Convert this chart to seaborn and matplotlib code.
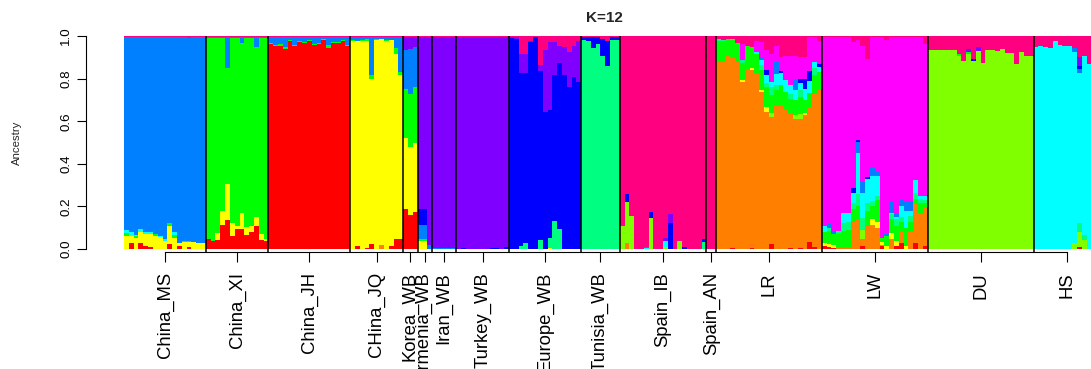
import numpy as np
import pandas as pd
import matplotlib
matplotlib.use("Agg")
import matplotlib.pyplot as plt
import seaborn as sns

# ---------------- data ----------------
components = ["red", "orange", "yellow", "chartreuse", "green", "spring",
              "cyan", "azure", "blue", "violet", "magenta", "rose"]
palette = ["#FF0000", "#FF8000", "#FFFF00", "#80FF00", "#00FF00", "#00FF80",
           "#00FFFF", "#0080FF", "#0000FF", "#8000FF", "#FF00FF", "#FF0080"]

group_labels = ["China_MS", "China_XI", "China_JH", "CHina_JQ", "Korea_WB",
                "Armenia_WB", "Iran_WB", "Turkey_WB", "Europe_WB", "Tunisia_WB",
                "Spain_IB", "Spain_AN", "LR", "LW", "DU", "HS"]
group_sizes = [17, 13, 17, 11, 3, 3, 5, 11, 15, 8, 18, 2, 22, 22, 22, 14]
group_major = ["azure", "green", "red", "yellow", "yellow", "violet", "violet",
               "violet", "blue", "spring", "rose", "rose", "orange", "magenta",
               "chartreuse", "cyan"]

# minor ancestry components (percent) per individual; major = remainder
china_ms = {
    "red":    [0, 2.8, 0, 2.8, 1.2, 0.8, 0, 0, 0, 2.3, 0, 1.5, 0, 0.8, 0, 0, 0],
    "yellow": [6.3, 3.4, 5, 5, 5.8, 6.2, 6.2, 5.4, 3.9, 8.3, 5, 1.3, 3.4, 2.3, 3.4, 2.8, 2.8],
    "green":  [1.0, 0, 1, 0, 0, 0, 0.8, 0, 0, 1.8, 1.5, 0, 0.5, 0.8, 0, 0, 0],
    "cyan":   [1.6, 1.6, 0.5, 1.8, 0.8, 0.8, 0, 0.5, 0.8, 0, 1.3, 0, 0, 0, 0, 0, 0],
    "rose":   [0.6, 0.6, 0.6, 0.6, 0.6, 0.6, 0.6, 0.6, 0.6, 0.6, 0.6, 0.6, 0.6, 0.8, 0.6, 0.6, 0.6],
}
china_xi = {
    "red":    [4.7, 3.9, 4.3, 11.2, 13.4, 6.2, 9.6, 9.6, 6.5, 7.8, 11.0, 4.3, 3.9],
    "yellow": [0, 0, 3.2, 6.5, 17.3, 5.9, 1.0, 7.5, 3.6, 2.8, 4.1, 2.7, 0.8],
    "azure":  [0.3, 0.3, 0.3, 0.5, 14.6, 0.3, 0.3, 2.8, 0.3, 0.3, 4.7, 0.3, 0.3],
    "rose":   [0.6, 0.6, 0.6, 0.6, 0.6, 0.6, 0.6, 0.6, 0.6, 0.6, 0.6, 0.6, 0.6],
}
china_jh = {
    "green": [0.5, 0.5, 1.0, 1.0, 0.5, 0.5, 0.5, 0.5, 0.5, 0.5, 0.5, 0.5, 1.5, 0.5, 0.5, 0.5, 0.5],
    "azure": [2.6, 3.6, 3.1, 4.6, 1.4, 3.6, 1.7, 2.3, 1.1, 3.2, 2.6, 0.8, 3.5, 2.0, 2.0, 1.1, 3.6],
    "rose":  [0.6, 0.6, 0.6, 0.6, 0.6, 0.6, 0.6, 0.6, 0.6, 0.6, 0.6, 0.6, 0.6, 0.6, 0.6, 0.6, 0.6],
}
china_jq = {
    "red":    [0, 1.2, 0, 0.6, 2.3, 0, 0, 0, 1.5, 4.7, 4.7],
    "orange": [0, 0, 0, 0, 0, 0, 1.9, 0, 0, 0, 0],
    "green":  [0.3, 0.3, 0.5, 0.6, 1.7, 0.3, 0.3, 0.6, 0.3, 2.8, 1.6],
    "azure":  [1.3, 1.6, 1.4, 1.0, 17.9, 1.0, 0.6, 1.3, 1.1, 5.0, 16.3],
    "rose":   [0.6, 0.6, 0.6, 0.6, 0.6, 0.6, 0.6, 0.6, 0.6, 0.6, 0.6],
}
korea_wb = {
    "red":    [19.0, 15.8, 17.4],
    "green":  [23.3, 24.9, 26.3],
    "azure":  [17.9, 20.9, 19.0],
    "violet": [6.2, 5.5, 4.4],
    "rose":   [0.6, 0.6, 0.6],
}
armenia_wb = {
    "yellow": [3.9, 3.9, 0],
    "green":  [0.8, 0.8, 0],
    "azure":  [6.6, 6.6, 1.9],
    "blue":   [7.3, 7.3, 0],
    "rose":   [0.5, 0.5, 0.5],
}
iran_wb = {
    "azure": [0.5, 0.3, 0.5, 0.3, 0.3],
    "rose":  [0.5, 0.5, 0.5, 0.5, 0.5],
}
turkey_wb = {
    "blue": [0, 0.5, 0, 0, 0, 0, 0, 0.5, 0.5, 0, 0.8],
    "rose": [0.5, 0.5, 0.5, 0.5, 0.5, 0.5, 0.5, 0.5, 0.5, 0.5, 0.5],
}
europe_wb = {
    "yellow": [0, 0, 0, 0, 0, 0, 0, 0, 0.6, 0, 0, 0, 0, 0, 0],
    "spring": [0, 0, 1.4, 3.0, 0, 0, 4.2, 0, 4.5, 13.1, 9.4, 0, 0, 0, 0],
    "violet": [0.5, 1.0, 9.0, 9.0, 0.5, 0, 3.1, 28.7, 31.8, 15.5, 8.0, 13.2, 16.6, 14.8, 19.4],
    "rose":   [0.6, 0.6, 8.4, 8.4, 2.5, 0.6, 13.4, 6.8, 3.0, 3.0, 4.7, 5.3, 7.3, 4.5, 2.2],
}
tunisia_wb = {
    "blue": [1.5, 1.9, 5.0, 3.1, 7.8, 12.1, 1.2, 1.2],
    "rose": [0.6, 0.6, 0.6, 0.6, 1.5, 2.2, 0.6, 0.6],
}
spain_ib = {
    "orange":     [0, 3.0, 0, 0, 0, 0, 0, 0, 0, 0, 0, 0, 0, 0, 0, 0, 0, 0],
    "chartreuse": [10.8, 19.2, 15.6, 0, 0, 0, 14.4, 0, 0, 1.1, 0, 0, 3.9, 0, 0, 0, 0, 0],
    "spring":     [0, 0, 0, 0, 0, 0, 0, 0, 0, 0, 0, 0, 0, 0, 0, 0, 0, 3.4],
    "cyan":       [0, 0, 0, 0, 0, 0.6, 0, 0, 0, 2.8, 0, 0, 0, 0, 0, 0, 0, 0],
    "azure":      [0, 0, 0, 0, 0, 0.4, 0, 0, 0, 0, 0, 0, 0, 0, 0, 0, 0, 0],
    "blue":       [0, 3.6, 0, 0, 0, 0, 3.1, 0, 0, 0, 12.0, 0, 0, 0.8, 0, 0, 0, 1.2],
    "violet":     [0, 0, 0, 0, 0, 0, 0, 0, 0, 1.1, 4.4, 0, 0, 0, 0, 0, 0, 0],
}
spain_an = {
    "blue": [0, 0],
}
lr = {
    "red":        [0, 0, 0, 0.6, 0, 0, 0, 0.6, 0, 0, 0, 2.3, 0, 0, 0, 0.6, 0, 0.6, 0, 3.4, 1.1, 0],
    "yellow":     [0, 0, 0, 0, 0, 0.8, 0, 0.8, 0, 0.8, 2.8, 0, 0, 0, 0, 0, 0, 0, 0.8, 0, 0, 0],
    "chartreuse": [0, 0, 0, 0, 0, 0, 0, 0, 0, 0, 0, 1.9, 0, 0, 0, 0, 2.0, 2.5, 0, 0, 0, 0],
    "green":      [9.8, 9.3, 8.2, 7.8, 8.9, 8.1, 11.3, 10.1, 9.3, 9.3, 9.3, 8.5, 7.5, 9.8, 8.5, 7.0, 7.0, 8.1, 6.2, 6.7, 8.5, 8.5],
    "spring":     [1.1, 0.5, 0, 0.5, 0, 1.5, 0, 0, 0, 2.3, 1.5, 3.9, 2.3, 0, 0, 2.0, 0, 3.1, 0, 0, 3.1, 0],
    "cyan":       [0, 0, 0, 0, 0, 0, 0, 0, 0.8, 2.3, 3.9, 2.3, 5.4, 5.4, 5.4, 4.2, 4.7, 3.1, 5.4, 5.4, 3.1, 2.3],
    "azure":      [0, 0, 0, 0, 0, 0, 0, 0, 0, 1.6, 0, 0, 5.4, 0, 0, 0, 5.4, 0, 0, 0, 0, 0],
    "blue":       [0, 0, 0, 0, 0, 0, 0, 0, 0, 0, 2.3, 0, 0, 1.2, 0, 0, 0, 2.3, 4.7, 4.7, 0, 1.6],
    "magenta":    [0, 0, 0, 0, 0, 7.5, 0, 0, 5.4, 7.0, 9.3, 13.2, 7.8, 6.5, 11.6, 14.0, 10.9, 10.1, 10.1, 16.1, 11.5, 10.9],
    "rose":       [1.4, 1.9, 1.4, 1.6, 3.4, 3.7, 4.5, 5.0, 2.2, 2.9, 6.8, 8.4, 4.5, 9.9, 9.2, 9.2, 9.2, 9.9, 9.9, 0.5, 0.5, 2.2],
}
lw = {
    "red":        [1.5, 1.0, 0.5, 0, 0, 0, 0, 0, 1.2, 0, 0, 0, 1.5, 0, 0, 1.5, 2.8, 0, 0, 2.8, 0, 1.5],
    "orange":     [0, 0, 0, 1.0, 1.0, 0.8, 12.7, 14.0, 3.4, 11.2, 11.2, 10.0, 0.5, 0, 4.7, 0, 5.0, 0, 7.8, 18.2, 17.1, 17.9],
    "yellow":     [1.5, 1.5, 1.5, 0, 0, 0, 0, 0, 0, 0, 2.8, 2.8, 1.5, 1.5, 3.0, 2.4, 0, 1.5, 0, 0, 0, 0],
    "chartreuse": [0, 0, 0, 0, 0, 0, 0, 0, 4.3, 0, 0, 0, 0, 0, 0, 0, 0, 0, 0, 0, 0, 0],
    "green":      [5.0, 6.0, 5.0, 6.0, 7.5, 8.2, 5.9, 6.2, 0, 6.7, 6.2, 10.0, 1.5, 4.7, 6.2, 7.0, 4.7, 8.5, 4.7, 2.3, 4.7, 2.3],
    "spring":     [0, 1.5, 0, 1.5, 3.9, 3.7, 3.1, 5.4, 5.7, 3.9, 2.3, 2.3, 0, 0, 2.3, 3.1, 2.3, 0, 3.1, 3.1, 1.5, 1.5],
    "cyan":       [3.0, 0, 0, 0, 4.7, 4.3, 4.7, 19.4, 11.6, 11.2, 11.6, 9.3, 0, 0, 0.8, 0.8, 5.4, 7.8, 2.3, 6.2, 1.5, 1.5],
    "azure":      [0, 2.3, 1.5, 0, 0, 0, 0, 5.4, 5.4, 0, 3.9, 2.3, 0.8, 0.8, 5.4, 1.5, 3.1, 4.7, 4.7, 0, 0, 0],
    "blue":       [0, 0, 0, 0, 0, 0, 2.3, 0.8, 0, 0.9, 0, 0, 0, 0, 0, 0, 0, 0, 0, 0, 0, 0],
    "rose":       [0.5, 0.5, 0.5, 0.5, 0.5, 0.5, 3.0, 2.0, 4.5, 10.7, 0.5, 0.5, 0.5, 1.9, 0.5, 0.5, 0.5, 0.5, 0.5, 0.5, 0.5, 3.7],
}
du = {
    "green":  [0, 0, 0, 0, 0, 0, 1.2, 0, 0.8, 0, 0, 0, 0, 0, 0, 0, 0, 0, 0, 0, 0, 0],
    "blue":   [0, 0, 0, 0, 0, 0, 0, 0, 0, 1.0, 0, 0, 0, 0, 0, 0, 0, 0, 0, 0, 0, 0],
    "violet": [0, 0, 0, 0, 0, 0, 0, 0, 1.5, 0, 2.1, 0, 0, 0, 0, 0, 0, 0, 0, 0, 0, 0],
    "rose":   [6.8, 6.4, 6.8, 6.8, 6.8, 6.8, 8.4, 11.8, 6.0, 10.8, 5.0, 12.7, 6.5, 6.5, 7.1, 6.0, 8.1, 8.1, 13.0, 7.6, 9.6, 9.6],
}
hs = {
    "red":        [0, 0, 0, 0, 0, 0, 0, 0, 0, 1.1, 0, 0, 0, 0],
    "chartreuse": [0, 0, 0, 0, 0, 0, 0, 0, 2.6, 7.0, 4.2, 0, 0, 0],
    "spring":     [0, 0, 0, 0, 0, 0, 0, 0, 0, 3.9, 2.3, 0, 0, 0],
    "azure":      [0, 0, 0, 0, 0, 0, 0, 0, 2.0, 2.0, 0, 0, 0, 0],
    "blue":       [0, 0, 0, 0, 0, 0, 0, 0, 0, 1.5, 0, 0, 0, 0],
    "violet":     [0, 0, 0, 0, 0, 0, 0, 0, 0, 3.9, 0, 0, 0, 0],
    "rose":       [5.3, 4.5, 5.3, 5.6, 2.5, 4.0, 4.5, 4.7, 5.6, 10.0, 9.2, 13.0, 4.0, 4.0],
}
group_minor = [china_ms, china_xi, china_jh, china_jq, korea_wb, armenia_wb,
               iran_wb, turkey_wb, europe_wb, tunisia_wb, spain_ib, spain_an,
               lr, lw, du, hs]

# ---------------- build Q matrix ----------------
rows = []
for size, major, minor in zip(group_sizes, group_major, group_minor):
    for i in range(size):
        q = np.zeros(len(components))
        for comp, vals in minor.items():
            q[components.index(comp)] = vals[i]
        q[components.index(major)] = max(0.0, 100.0 - q.sum())
        rows.append(q / q.sum())
Q = np.array(rows)
n = Q.shape[0]
cum = np.cumsum(Q, axis=1)
df = pd.DataFrame(cum, columns=components)
df["ind"] = np.arange(n)

# ---------------- plot ----------------
sns.set_style("ticks")
plt.rcParams["font.family"] = ["Liberation Sans", "DejaVu Sans"]

W, H = 1091, 369
fig = plt.figure(figsize=(W / 100, H / 100), dpi=100)
x0, x1, ytop, ybot = 124, 1101, 36, 249
ax = fig.add_axes([x0 / W, (H - ybot) / H, (x1 - x0) / W, (ybot - ytop) / H])

for k in reversed(range(len(components))):
    sns.barplot(data=df, x="ind", y=components[k], color=palette[k],
                saturation=1, width=1.0, linewidth=0, errorbar=None,
                orient="x", ax=ax)

ax.set_xlim(-0.5, n - 0.5)
ax.set_ylim(0, 1)

starts = np.concatenate([[0], np.cumsum(group_sizes)[:-1]])
centers = starts + np.array(group_sizes) / 2 - 0.5
ax.vlines(starts[1:] - 0.5, -0.018, 1.0, colors="black", linewidth=1.1,
          clip_on=False, zorder=5)

for side in ["top", "right"]:
    ax.spines[side].set_visible(False)
ax.spines["left"].set_position(("outward", 27.4))
ax.spines["left"].set_bounds(0, 1)
ax.spines["bottom"].set_position(("outward", 1.8))
ax.spines["bottom"].set_bounds(centers[0], centers[-1])
for side in ["left", "bottom"]:
    ax.spines[side].set_linewidth(0.8)
    ax.spines[side].set_color("black")

ax.set_yticks([0, 0.2, 0.4, 0.6, 0.8, 1.0])
ax.set_yticklabels(["0.0", "0.2", "0.4", "0.6", "0.8", "1.0"],
                   rotation=90, va="center", fontsize=9.6)
ax.tick_params(axis="y", length=6.5, width=0.8, pad=3.5, colors="black")

ax.set_xticks(centers)
ax.set_xticklabels(group_labels, rotation=90, fontsize=13.3)
ax.tick_params(axis="x", length=7.2, width=0.8, pad=7.6, colors="black")

ax.set_xlabel("")
ax.set_ylabel("")
fig.text(17 / W, (H - 142.5) / H, "Ancestry", rotation=90, ha="center",
         va="center", fontsize=8.2)
fig.text(604 / W, (H - 18) / H, "K=12", ha="center", va="center",
         fontsize=11, fontweight="bold")

fig.savefig("out.png", dpi=100, facecolor="white")
